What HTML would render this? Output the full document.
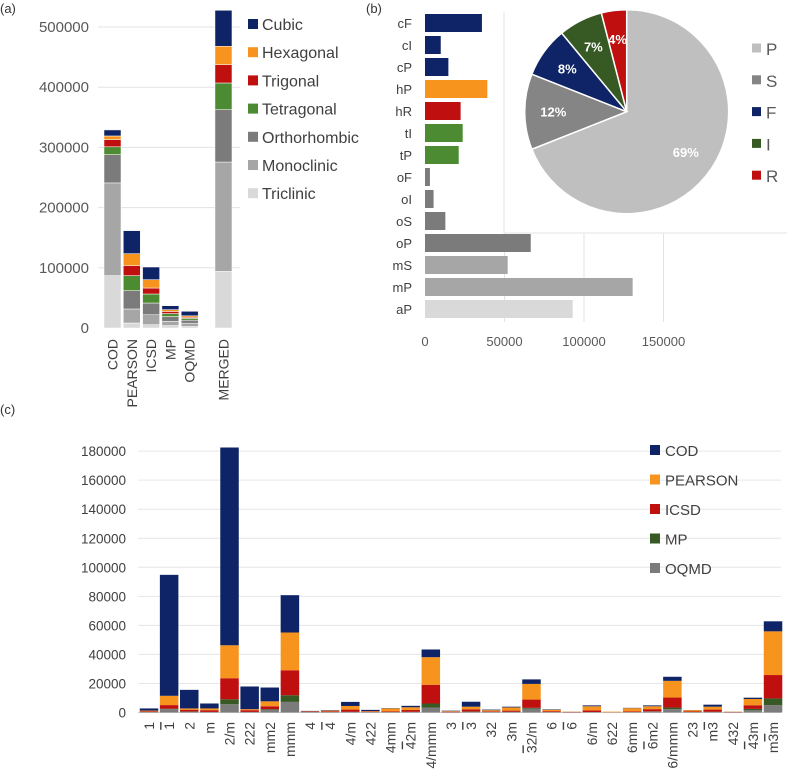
<!DOCTYPE html>
<html><head><meta charset="utf-8">
<style>
html,body{margin:0;padding:0;background:#fff;}
svg{display:block;font-family:"Liberation Sans",sans-serif;}
</style></head>
<body>
<svg id="fig" width="787" height="776" viewBox="0 0 787 776" xmlns="http://www.w3.org/2000/svg">
<rect width="787" height="776" fill="#fff"/>
<text x="0" y="13" font-size="13" fill="#333">(a)</text>
<text x="366" y="13" font-size="13" fill="#333">(b)</text>
<text x="0" y="414" font-size="13" fill="#333">(c)</text>
<g id="pa"></g>
<g id="pb"></g>
<g id="pc"></g>
</svg>
<script>
// ---------- Panel (a) data ----------
const aDatabases = ["COD","PEARSON","ICSD","MP","OQMD","MERGED"];
const aSystems = ["Triclinic","Monoclinic","Orthorhombic","Tetragonal","Trigonal","Hexagonal","Cubic"];
const aTriclinic    = [87000, 8300, 5500, 4000, 2500, 94000];
const aMonoclinic   = [154000, 23300, 16500, 7000, 5500, 181700];
const aOrthorhombic = [47000, 30400, 19500, 8000, 5000, 87000];
const aTetragonal   = [13000, 25000, 15000, 5000, 3000, 44300];
const aTrigonal     = [12000, 16500, 9900, 3500, 1700, 30400];
const aHexagonal    = [6000, 20000, 13900, 3000, 2500, 30600];
const aCubic        = [10000, 38200, 21000, 6500, 7500, 59700];
const aTicks = [0,100000,200000,300000,400000,500000];

// ---------- Panel (b) data ----------
const bLattices = ["cF","cI","cP","hP","hR","tI","tP","oF","oI","oS","oP","mS","mP","aP"];
const bCounts = [35800, 9900, 14700, 39200, 22400, 23700, 21200, 3100, 5400, 12800, 66500, 52000, 130600, 92900];
const bTicks = [0,50000,100000,150000];
const pieLabels = ["P","S","F","I","R"];
const pieValues = [69,12,8,7,4];

// ---------- Panel (c) data ----------
const cGroups = ["1","~1","2","m","2/m","222","mm2","mmm","4","~4","4/m","422","4mm","~42m","4/mmm","3","~3","32","3m","~32/m","6","~6","6/m","622","6mm","~6m2","6/mmm","23","m~3","432","~43m","m~3m"];
const cOQMD    = [200,2300,500,300,5700,300,1800,7300,300,200,300,200,200,300,3400,100,500,300,300,2700,200,100,200,50,200,600,2300,200,300,100,1500,5100];
const cMP      = [100,300,200,100,3400,100,500,4600,100,100,200,100,100,200,2800,50,200,100,200,500,100,50,100,50,100,200,1100,100,200,50,1000,4600];
const cICSD    = [500,2500,1200,1200,14500,1200,2000,17200,300,500,1500,300,500,1200,12900,400,1500,400,800,5700,600,200,1200,100,500,1500,6900,400,1500,200,2500,16100];
const cPEARSON = [500,6400,900,1200,22700,700,3400,26000,200,500,2500,400,2000,1900,19000,400,1800,800,2200,10800,1000,200,2800,400,2200,2000,11500,900,2000,200,4300,30100];
const cCOD     = [1500,83300,12800,3400,136200,15600,9500,25700,200,300,2800,800,200,1000,5300,300,3400,400,500,3100,300,50,600,0,200,600,2800,100,1400,50,900,6900];
const cTicks = [0,20000,40000,60000,80000,100000,120000,140000,160000,180000];

const NS="http://www.w3.org/2000/svg";
function mk(parent,tag,attrs){const e=document.createElementNS(NS,tag);for(const k in attrs)e.setAttribute(k,attrs[k]);parent.appendChild(e);return e;}
const COL={navy:"#0e2466",orange:"#f7941d",red:"#c00f0f",green:"#4c8b32",dgreen:"#375a25",dgray:"#7b7b7b",mgray:"#a6a6a6",lgray:"#d9d9d9",pgray:"#bfbfbf",sgray:"#858585"};

// ===== Panel A =====
(function(){
  const g=document.getElementById('pa');
  const y0=328, pxPer=60.2/100000;
  const yA=v=>y0-v*pxPer;
  const slotX=i=>104+19.3*(i<5?i:i+0.75);
  const bw=17;
  aTicks.forEach(t=>{
    if(t>0){const l=mk(g,'line',{x1:98,x2:240,y1:yA(t),y2:yA(t),stroke:"#e3e3e3","stroke-width":1});
    
    }
    const tx=mk(g,'text',{x:89,y:yA(t)+5,"text-anchor":"end","font-size":15,fill:"#595959"});
    tx.textContent=t;
    
    
  });
  const series=[aTriclinic,aMonoclinic,aOrthorhombic,aTetragonal,aTrigonal,aHexagonal,aCubic];
  const cols=[COL.lgray,COL.mgray,COL.dgray,COL.green,COL.red,COL.orange,COL.navy];
  aDatabases.forEach((db,i)=>{
    let acc=0;
    series.forEach((s,j)=>{
      const r=mk(g,'rect',{x:slotX(i),y:yA(acc+s[i]),width:bw,height:s[i]*pxPer,fill:cols[j],stroke:"#fff","stroke-width":0.5});
      
      
      acc+=s[i];
    });
    const x=slotX(i)+bw/2+5;
    const t=mk(g,'text',{x:x,y:339,transform:`rotate(-90 ${x} 339)`,"text-anchor":"end","font-size":14,fill:"#404040"});
    t.textContent=db;
    
    
  });
  const legOrder=[6,5,4,3,2,1,0];
  legOrder.forEach((j,k)=>{
    const cy=24+28.2*k;
    const r=mk(g,'rect',{x:248,y:cy-5,width:10,height:10,fill:cols[j]});
    
    
    const t=mk(g,'text',{x:262,y:cy+6,"font-size":16,fill:"#404040"});
    t.textContent=aSystems[j];
    
    
  });
})();

// ===== Panel B =====
(function(){
  const g=document.getElementById('pb');
  const x0=425, pxPer=79.5/50000;
  const xB=v=>x0+v*pxPer;
  const top=14, pitch=22, bh=18;
  bTicks.forEach(t=>{
    if(t>0){const l=mk(g,'line',{x1:xB(t),x2:xB(t),y1:233,y2:322,stroke:"#e3e3e3"});
    
    }
    const tx=mk(g,'text',{x:xB(t),y:346,"text-anchor":"middle","font-size":13,fill:"#595959"});
    tx.textContent=t;
    
    
  });
  mk(g,'line',{x1:504,x2:787,y1:233,y2:233,stroke:"#e3e3e3"});
  mk(g,'line',{x1:504,x2:504,y1:12,y2:233,stroke:"#e3e3e3"});
  const colFor=l=>({c:COL.navy,h:l==="hP"?COL.orange:COL.red,t:COL.green,o:COL.dgray,m:COL.mgray,a:COL.lgray})[l[0]];
  bLattices.forEach((l,i)=>{
    const y=top+i*pitch;
    const r=mk(g,'rect',{x:x0,y:y,width:bCounts[i]*pxPer,height:bh,fill:colFor(l)});
    
    
    const t=mk(g,'text',{x:412,y:y+bh/2+5,"text-anchor":"end","font-size":13,fill:"#404040"});
    t.textContent=l;
    
    
  });
  // pie
  const cx=626.7, cy=111.7, R=102;
  const pcol=[COL.pgray,COL.sgray,COL.navy,COL.dgreen,COL.red];
  const total=pieValues.reduce((a,b)=>a+b,0);
  let ang=0;
  pieValues.forEach((v,i)=>{
    const a0=ang, a1=ang+v/total*2*Math.PI; ang=a1;
    const p=(a)=>[cx+R*Math.sin(a), cy-R*Math.cos(a)];
    const [xa,ya]=p(a0),[xb,yb]=p(a1);
    const path=mk(g,'path',{d:`M${cx},${cy} L${xa},${ya} A${R},${R} 0 ${a1-a0>Math.PI?1:0} 1 ${xb},${yb} Z`,fill:pcol[i],stroke:"#fff","stroke-width":1.5});
    
    
    const am=(a0+a1)/2, rr=i===0?0.7:0.72;
    const t=mk(g,'text',{x:cx+R*rr*Math.sin(am),y:cy-R*rr*Math.cos(am)+5,"text-anchor":"middle","font-size":13,"font-weight":"bold",fill:"#fff"});
    t.textContent=v+"%";
    
    
  });
  pieLabels.forEach((l,k)=>{
    const y=48+31.8*k;
    const r=mk(g,'rect',{x:752,y:y-4.5,width:9,height:9,fill:pcol[k]});
    
    
    const t=mk(g,'text',{x:766,y:y+7,"font-size":17,fill:"#595959"});
    t.textContent=l;
    
    
  });
})();

// ===== Panel C =====
(function(){
  const g=document.getElementById('pc');
  const y0=712.5, pxPer=1.452/1000;
  const yC=v=>y0-v*pxPer;
  const xC=i=>149+20.13*i;
  const bw=18.5;
  cTicks.forEach(t=>{
    const l=mk(g,'line',{x1:138,x2:781,y1:yC(t),y2:yC(t),stroke:t===0?"#d0d0d0":"#e6e6e6"});
    
    
    const tx=mk(g,'text',{x:126,y:yC(t)+5,"text-anchor":"end","font-size":13.5,fill:"#404040"});
    tx.textContent=t;
    
    
  });
  const series=[cOQMD,cMP,cICSD,cPEARSON,cCOD];
  const names=["oqmd","mp","icsd","pearson","cod"];
  const cols=[COL.dgray,COL.dgreen,COL.red,COL.orange,COL.navy];
  cGroups.forEach((lab,i)=>{
    let acc=0;
    series.forEach((s,j)=>{
      const r=mk(g,'rect',{x:xC(i)-bw/2,y:yC(acc+s[i]),width:bw,height:s[i]*pxPer,fill:cols[j]});
      
      
      acc+=s[i];
    });
    const x=xC(i)+5;
    const t=mk(g,'text',{x:x,y:722,transform:`rotate(-90 ${x} 722)`,"text-anchor":"end","font-size":14,fill:"#404040"});
    
    
    let k=0;
    while(k<lab.length){
      if(lab[k]==="~"){const ts=mk(t,'tspan',{style:"text-decoration:overline"});ts.textContent=lab[k+1];k+=2;}
      else{let s="";while(k<lab.length&&lab[k]!=="~"){s+=lab[k];k++;}const ts=mk(t,'tspan',{});ts.textContent=s;}
    }
  });
  const legNames=["COD","PEARSON","ICSD","MP","OQMD"];
  const legCols=[COL.navy,COL.orange,COL.red,COL.dgreen,COL.dgray];
  legNames.forEach((n,k)=>{
    const y=450+29.5*k;
    const r=mk(g,'rect',{x:650,y:y-5,width:10,height:10,fill:legCols[k]});
    
    
    const t=mk(g,'text',{x:665,y:y+6,"font-size":15,fill:"#404040"});
    t.textContent=n;
    
    
  });
})();
</script>
</body></html>
